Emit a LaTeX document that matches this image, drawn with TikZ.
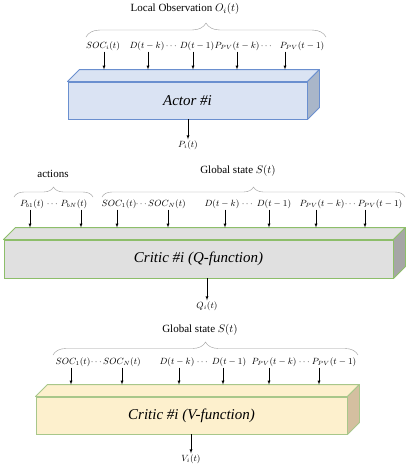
\documentclass[tikz,border=0pt]{standalone}
\usepackage{amsmath}
\usepackage{amssymb}
\usepackage{fontspec}
\setmainfont{Liberation Serif}
\usepackage{xcolor}
\usepackage{tikz}
\usetikzlibrary{arrows, positioning, calc, decorations.pathreplacing}

\definecolor{actorfill}{HTML}{DAE3F3}
\definecolor{actorside}{HTML}{A9B6C9}
\definecolor{actorline}{HTML}{6A8FCF}
\definecolor{qfill}{HTML}{E0E0E0}
\definecolor{qside}{HTML}{A6A6A6}
\definecolor{qline}{HTML}{8DBE6A}
\definecolor{vfill}{HTML}{FDF0CD}
\definecolor{vside}{HTML}{D4BFA0}
\definecolor{vline}{HTML}{A8C78A}

% top and right faces of a slab
\newcommand{\slabdepth}[4]{%
  \filldraw[draw=#2, fill=#3, line width=0.9pt, line join=round] (#1.north west) -- ++(12,-12) -- ([shift={(12,-12)}]#1.north east) -- (#1.north east) -- cycle;
  \filldraw[draw=#2, fill=#4, line width=0.9pt, line join=round] (#1.north east) -- ++(12,-12) -- ([shift={(12,-12)}]#1.south east) -- (#1.south east) -- cycle;
  \coordinate (#1back) at ([shift={(0,-12)}]#1.north);
}

\begin{document}
\begin{tikzpicture}[x=1pt,y=-1pt,
  lbl/.style={inner sep=1pt, font=\fontsize{9}{11}\selectfont},
  ttl/.style={inner sep=1pt, font=\fontsize{11}{13}\selectfont},
  slab/.style={rectangle, inner sep=0pt, line width=0.9pt, font=\fontsize{15}{18}\selectfont\itshape},
  inarrow/.style={-latex, thin},
  brc/.style={decorate, decoration={brace, amplitude=#1}, draw=gray!80, thin},
  brc/.default=10]
  \useasboundingbox (0,0) rectangle (413,475);

  % Actor
  \node[slab, fill=actorfill, draw=actorline, minimum width=239pt, minimum height=37pt] (actor) at (187.5,100.5) {Actor \#i};
  \slabdepth{actor}{actorline}{actorfill}{actorside}

  % Local observation inputs
  \node[lbl] (o1) at (103,46) {$SOC_i(t)$};
  \node[lbl] (o2) at (147,46) {$D(t-k)$};
  \node[lbl] (od1) at (172,46) {$\cdots$};
  \node[lbl] (o3) at (197,46) {$D(t-1)$};
  \node[lbl] (o4) at (237,46) {$P_{PV}(t-k)$};
  \node[lbl] (od2) at (267,46) {$\cdots$};
  \node[lbl] (o5) at (302,46) {$P_{PV}(t-1)$};
  \foreach \n/\s in {o1/1, o2/1, o3/-4, o4/0, o5/-17}
    \draw[inarrow] ([xshift=\s pt]\n.south) -- ([xshift=\s pt]\n.south |- actorback);
  \draw[brc=14] (86,37) -- (326,37);
  \node[ttl] (obs) at (185,9) {Local Observation $O_i(t)$};

  % Actor output
  \node[lbl] (pout) at (188,145) {$P_i(t)$};
  \draw[inarrow] (actor.south -| pout) -- (pout.north);

  % Critic (Q-function)
  \node[slab, fill=qfill, draw=qline, minimum width=389pt, minimum height=38pt] (qcrit) at (198.5,259) {Critic \#i (Q-function)};
  \slabdepth{qcrit}{qline}{qfill}{qside}

  % Actions and global state inputs
  \node[lbl] (q1) at (32,204) {$P_{b1}(t)$};
  \node[lbl] (qd1) at (53,204) {$\cdots$};
  \node[lbl] (q2) at (74,204) {$P_{bN}(t)$};
  \node[lbl] (q3) at (119,204) {$SOC_1(t)$};
  \node[lbl] (qd2) at (142,204) {$\cdots$};
  \node[lbl] (q4) at (167,204) {$SOC_N(t)$};
  \node[lbl] (q5) at (222,204) {$D(t-k)$};
  \node[lbl] (qd3) at (248,204) {$\cdots$};
  \node[lbl] (q6) at (274,204) {$D(t-1)$};
  \node[lbl] (q7) at (322,204) {$P_{PV}(t-k)$};
  \node[lbl] (qd4) at (351,204) {$\cdots$};
  \node[lbl] (q8) at (380,204) {$P_{PV}(t-1)$};
  \foreach \n/\s in {q1/-2, q2/7, q3/-2, q4/1, q5/3, q6/-5, q7/-6, q8/-15}
    \draw[inarrow] ([xshift=\s pt]\n.south) -- ([xshift=\s pt]\n.south |- qcritback);
  \draw[brc] (14,197) -- (93,197);
  \draw[brc] (102,197) -- (405,197);
  \node[ttl] (act) at (53,174) {actions};
  \node[ttl] (gs1) at (238,171) {Global state $S(t)$};

  % Q output
  \node[lbl] (qout) at (207,306) {$Q_i(t)$};
  \draw[inarrow] (qcrit.south -| qout) -- (qout.north);

  % Critic (V-function)
  \node[slab, fill=vfill, draw=vline, minimum width=311pt, minimum height=37pt] (vcrit) at (191.5,415.5) {Critic \#i (V-function)};
  \slabdepth{vcrit}{vline}{vfill}{vside}

  % Global state inputs
  \node[lbl] (v1) at (73,362) {$SOC_1(t)$};
  \node[lbl] (vd1) at (97,362) {$\cdots$};
  \node[lbl] (v2) at (122,362) {$SOC_N(t)$};
  \node[lbl] (v3) at (177,362) {$D(t-k)$};
  \node[lbl] (vd2) at (203,362) {$\cdots$};
  \node[lbl] (v4) at (229,362) {$D(t-1)$};
  \node[lbl] (v5) at (274,362) {$P_{PV}(t-k)$};
  \node[lbl] (vd3) at (305,362) {$\cdots$};
  \node[lbl] (v6) at (334,362) {$P_{PV}(t-1)$};
  \foreach \n/\s in {v1/-2, v2/0, v3/2, v4/-6, v5/-5, v6/-15}
    \draw[inarrow] ([xshift=\s pt]\n.south) -- ([xshift=\s pt]\n.south |- vcritback);
  \draw[brc=13] (53,355) -- (358,355);
  \node[ttl] (gs2) at (200,330) {Global state $S(t)$};

  % V output
  \node[lbl] (vout) at (191,459) {$V_i(t)$};
  \draw[inarrow] (vcrit.south -| vout) -- (vout.north);
\end{tikzpicture}
\end{document}
